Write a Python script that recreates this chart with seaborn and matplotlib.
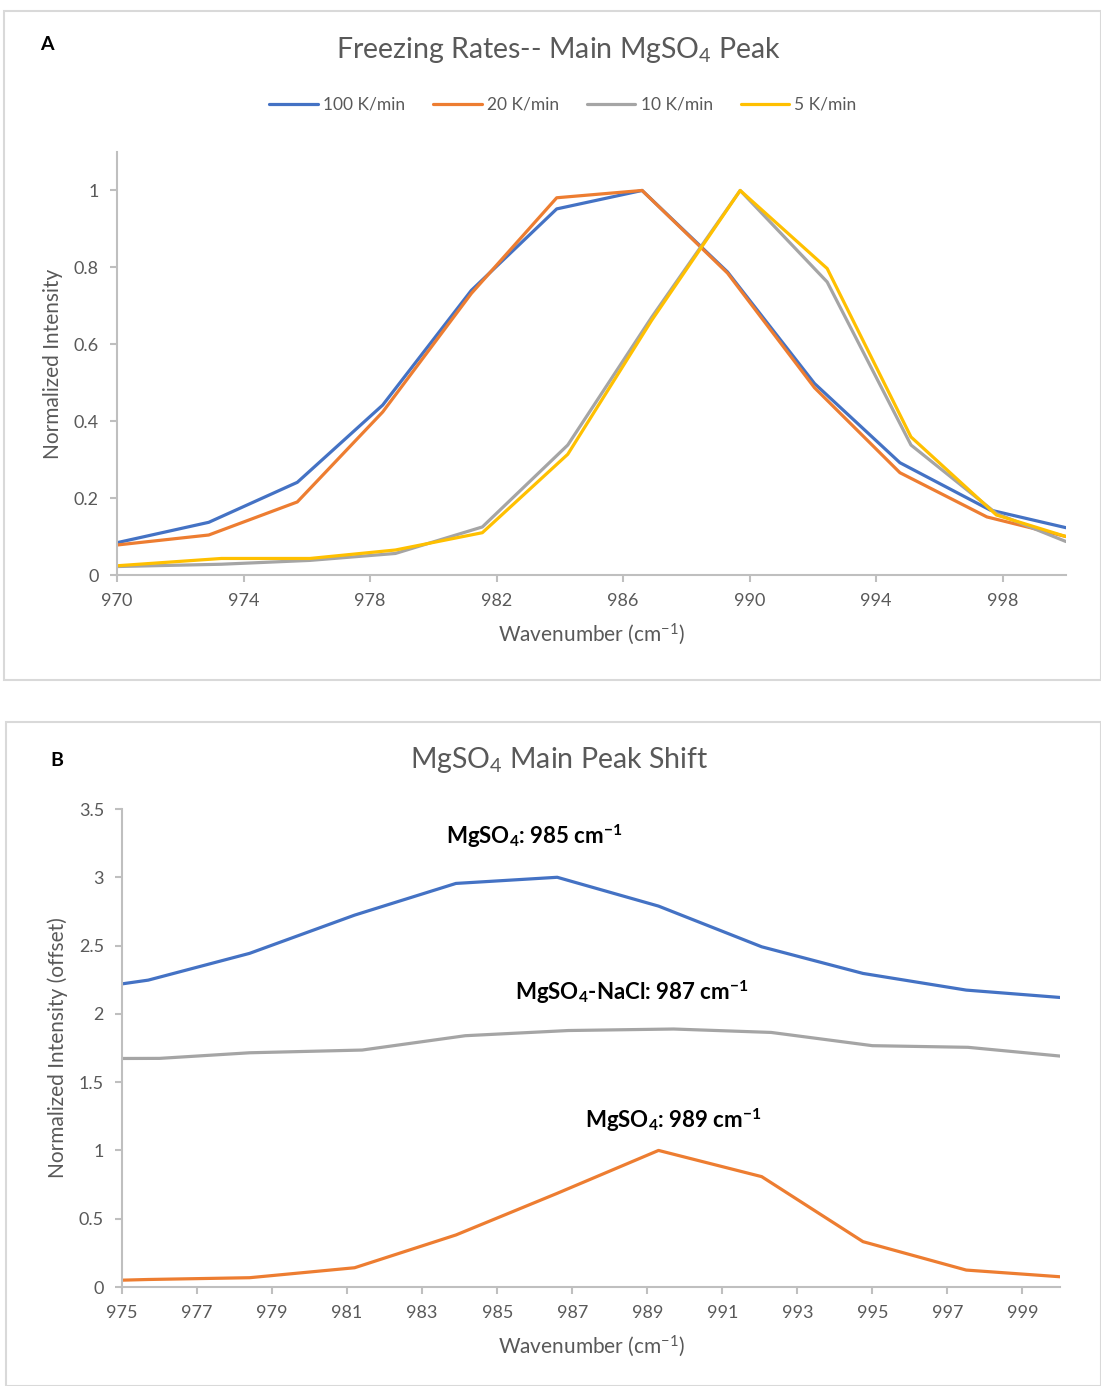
import matplotlib
matplotlib.use("Agg")
import matplotlib.pyplot as plt
import seaborn as sns
import pandas as pd
from matplotlib.patches import Rectangle
from matplotlib.lines import Line2D

# ---------------- Data ----------------
# Panel A: freezing rates
rates = ["100 K/min", "20 K/min", "10 K/min", "5 K/min"]
x_100 = [970.0, 972.9, 975.7, 978.4, 981.2, 983.9, 986.6, 989.3, 992.05, 994.75, 997.6, 1000.0]
y_100 = [0.084, 0.137, 0.241, 0.442, 0.74, 0.952, 1.0, 0.788, 0.498, 0.292, 0.169, 0.123]
x_20 = [970.0, 972.9, 975.7, 978.4, 981.2, 983.9, 986.6, 989.3, 992.05, 994.75, 997.5, 1000.0]
y_20 = [0.078, 0.104, 0.19, 0.424, 0.732, 0.981, 1.0, 0.785, 0.487, 0.266, 0.151, 0.10]
x_10 = [970.0, 973.3, 976.1, 978.8, 981.55, 984.25, 986.9, 989.7, 992.45, 995.1, 997.8, 1000.0]
y_10 = [0.022, 0.028, 0.038, 0.056, 0.125, 0.338, 0.67, 1.0, 0.762, 0.338, 0.16, 0.087]
x_5 = [970.0, 973.3, 976.1, 978.8, 981.55, 984.25, 986.9, 989.7, 992.45, 995.1, 997.8, 1000.0]
y_5 = [0.024, 0.043, 0.043, 0.065, 0.11, 0.314, 0.662, 1.0, 0.797, 0.359, 0.156, 0.10]

# Panel B: peak shift (offset spectra)
samples = ["MgSO4 985", "MgSO4-NaCl 987", "MgSO4 989"]
xb_985 = [972.9, 975.7, 978.4, 981.2, 983.9, 986.6, 989.3, 992.05, 994.75, 997.5, 1000.0]
yb_985 = [2.137, 2.247, 2.443, 2.723, 2.955, 3.0, 2.789, 2.491, 2.296, 2.174, 2.12]
xb_nacl = [973.3, 976.0, 978.4, 981.4, 984.15, 986.9, 989.7, 992.3, 995.0, 997.55, 1000.0]
yb_nacl = [1.672, 1.674, 1.715, 1.735, 1.84, 1.878, 1.889, 1.864, 1.767, 1.755, 1.691]
xb_989 = [972.9, 975.7, 978.4, 981.2, 983.9, 986.6, 989.3, 992.05, 994.75, 997.5, 1000.0]
yb_989 = [0.035, 0.055, 0.068, 0.141, 0.381, 0.686, 1.0, 0.808, 0.332, 0.124, 0.075]

labels_b = ["MgSO$_\\mathbf{4}$: 985 cm$^\\mathbf{-1}$",
            "MgSO$_\\mathbf{4}$-NaCl: 987 cm$^\\mathbf{-1}$",
            "MgSO$_\\mathbf{4}$: 989 cm$^\\mathbf{-1}$"]
label_xy_b = [(986.0, 3.30), (988.6, 2.16), (989.7, 1.22)]

ticks_a_x = [970, 974, 978, 982, 986, 990, 994, 998]
ticks_a_y = [0, 0.2, 0.4, 0.6, 0.8, 1]
ticks_b_x = list(range(975, 1000, 2))
ticks_b_y = [0, 0.5, 1, 1.5, 2, 2.5, 3, 3.5]

# ---------------- Styling ----------------
sns.set_theme(style="white")
plt.rcParams["font.family"] = ["Lato", "DejaVu Sans"]
plt.rcParams["mathtext.fontset"] = "custom"
plt.rcParams["mathtext.rm"] = "Lato"
plt.rcParams["mathtext.it"] = "Lato:italic"
plt.rcParams["mathtext.bf"] = "Lato:bold"
plt.rcParams["mathtext.default"] = "rm"

colors_a = ["#4472C4", "#ED7D31", "#A5A5A5", "#FFC000"]
colors_b = ["#4472C4", "#A5A5A5", "#ED7D31"]
txt_col = "#595959"
ax_col = "#BFBFBF"

W, H = 1101, 1386
fig = plt.figure(figsize=(W / 100, H / 100), dpi=100)
fig.patch.set_facecolor("white")

def fx(px):
    return px / W

def fy(py):
    return 1 - py / H

# panel borders
fig.patches.append(Rectangle((fx(4), fy(680)), fx(1101) - fx(4), fy(11) - fy(680),
                             transform=fig.transFigure, fill=False, edgecolor="#D9D9D9", lw=1.5))
fig.patches.append(Rectangle((fx(6), fy(1386)), fx(1101) - fx(6), fy(722) - fy(1386),
                             transform=fig.transFigure, fill=False, edgecolor="#D9D9D9", lw=1.5))

def style_axes(ax):
    for s in ["top", "right"]:
        ax.spines[s].set_visible(False)
    for s in ["left", "bottom"]:
        ax.spines[s].set_color(ax_col)
        ax.spines[s].set_linewidth(1.5)
    ax.tick_params(axis="both", which="major", direction="out", length=5, width=1.5,
                   color=ax_col, labelcolor=txt_col, labelsize=13, pad=8,
                   bottom=True, left=True)
    ax.grid(False)

# ---------------- Panel A ----------------
df_a = pd.concat([
    pd.DataFrame({"x": x_100, "y": y_100, "rate": rates[0]}),
    pd.DataFrame({"x": x_20, "y": y_20, "rate": rates[1]}),
    pd.DataFrame({"x": x_10, "y": y_10, "rate": rates[2]}),
    pd.DataFrame({"x": x_5, "y": y_5, "rate": rates[3]}),
], ignore_index=True)

axA = fig.add_axes([fx(117), fy(575), fx(1066) - fx(117), fy(152) - fy(575)])
sns.lineplot(data=df_a, x="x", y="y", hue="rate", hue_order=rates, palette=colors_a,
             estimator=None, sort=False, linewidth=2.3, ax=axA, legend=False)
axA.set_xlim(970, 1000)
axA.set_ylim(0, 1.1)
axA.set_xticks(ticks_a_x)
axA.set_yticks(ticks_a_y)
axA.set_yticklabels(["0", "0.2", "0.4", "0.6", "0.8", "1"])
style_axes(axA)
axA.set_xlabel("Wavenumber (cm$^{-1}$)", fontsize=15, color=txt_col, labelpad=9)
axA.set_ylabel("Normalized Intensity", fontsize=15, color=txt_col, labelpad=8)

handles = [Line2D([0], [0], color=c, lw=2.3) for c in colors_a]
axA.legend(handles, rates, loc="center", bbox_to_anchor=(fx(563), fy(105)),
           bbox_transform=fig.transFigure, ncol=4, frameon=False, fontsize=12.5,
           handlelength=2.8, handletextpad=0.3, columnspacing=1.6, labelcolor=txt_col)

fig.text(fx(559), fy(50), "Freezing Rates-- Main MgSO$_4$ Peak", ha="center", va="center",
         fontsize=20.5, color=txt_col)
fig.text(fx(47), fy(45), "A", ha="center", va="center", fontsize=14, fontweight="bold", color="black")

# ---------------- Panel B ----------------
df_b = pd.concat([
    pd.DataFrame({"x": xb_985, "y": yb_985, "sample": samples[0]}),
    pd.DataFrame({"x": xb_nacl, "y": yb_nacl, "sample": samples[1]}),
    pd.DataFrame({"x": xb_989, "y": yb_989, "sample": samples[2]}),
], ignore_index=True)

axB = fig.add_axes([fx(122), fy(1287), fx(1060) - fx(122), fy(809) - fy(1287)])
sns.lineplot(data=df_b, x="x", y="y", hue="sample", hue_order=samples, palette=colors_b,
             estimator=None, sort=False, linewidth=2.3, ax=axB, legend=False)
axB.set_xlim(975, 1000)
axB.set_ylim(0, 3.5)
axB.set_xticks(ticks_b_x)
axB.set_yticks(ticks_b_y)
axB.set_yticklabels(["0", "0.5", "1", "1.5", "2", "2.5", "3", "3.5"])
style_axes(axB)
axB.set_xlabel("Wavenumber (cm$^{-1}$)", fontsize=15, color=txt_col, labelpad=9)
axB.set_ylabel("Normalized Intensity (offset)", fontsize=15, color=txt_col, labelpad=8)

for lab, (lx, ly) in zip(labels_b, label_xy_b):
    axB.text(lx, ly, lab, ha="center", va="center", fontsize=16, fontweight="bold", color="black")

fig.text(fx(559), fy(760), "MgSO$_4$ Main Peak Shift", ha="center", va="center",
         fontsize=20.5, color=txt_col)
fig.text(fx(57), fy(760), "B", ha="center", va="center", fontsize=14, fontweight="bold", color="black")

fig.savefig("out.png", dpi=100, facecolor="white")
